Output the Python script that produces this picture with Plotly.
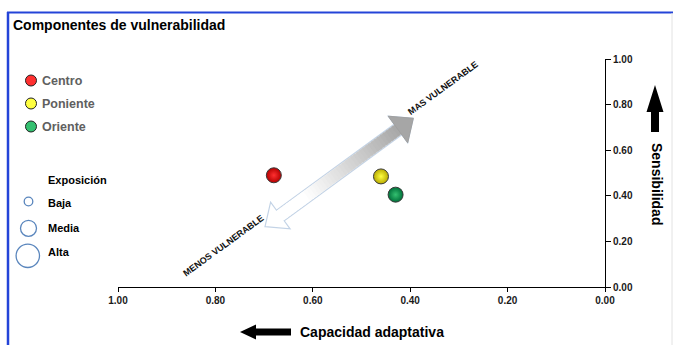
import plotly.graph_objects as go
import numpy as np

# ---------------- data ----------------
regions = ["Centro", "Poniente", "Oriente"]
capacidad_adaptativa = [0.68, 0.46, 0.43]
sensibilidad = [0.49, 0.485, 0.405]
edge_colors = ["#b30000", "#b8aa00", "#00703a"]
center_colors = ["#ff3030", "#ffff40", "#34c070"]
tick_vals = [0.0, 0.2, 0.4, 0.6, 0.8, 1.0]
tick_text = ["0.00", "0.20", "0.40", "0.60", "0.80", "1.00"]
exposure_levels = ["Baja", "Media", "Alta"]

# ---------------- geometry helpers (decorations only) ----------------
W, H = 673, 345
L, R, T, B = 118, 68, 59, 58
PW = W - L - R
PH = H - T - B
FONT = "Liberation Sans, Arial, sans-serif"


def P(px, py):
    return ((px - L) / PW, (H - B - py) / PH)


def path(points):
    pts = [P(*p) for p in points]
    return "M " + " L ".join(f"{x:.5f},{y:.5f}" for x, y in pts) + " Z"


shapes = []
annotations = []

# frame
shapes.append(dict(type="line", xref="paper", yref="paper",
                   x0=P(7, 12.5)[0], y0=P(7, 12.5)[1], x1=P(673, 12.5)[0], y1=P(673, 12.5)[1],
                   line=dict(color="#2444d8", width=2)))
shapes.append(dict(type="line", xref="paper", yref="paper",
                   x0=P(8, 12)[0], y0=P(8, 12)[1], x1=P(8, 345)[0], y1=P(8, 345)[1],
                   line=dict(color="#2444d8", width=2.5)))
shapes.append(dict(type="line", xref="paper", yref="paper",
                   x0=P(672, 13)[0], y0=P(672, 13)[1], x1=P(672, 345)[0], y1=P(672, 345)[1],
                   line=dict(color="#e2e2e2", width=1)))

# big double arrow
tipU = np.array([413.3, 118.3])
tipL = np.array([265.0, 226.7])
u = (tipU - tipL) / np.linalg.norm(tipU - tipL)
n = np.array([-u[1], u[0]])
if n[1] < 0:
    n = -n
hl, hw, bw = 19.0, 16.5, 6.5
baseU = tipU - hl * u
baseL = tipL + hl * u
outline = [tipL, baseL + hw * n, baseL + bw * n, baseU + bw * n, baseU + hw * n, tipU,
           baseU - hw * n, baseU - bw * n, baseL - bw * n, baseL - hw * n]
shapes.append(dict(type="path", xref="paper", yref="paper", layer="below",
                   path=path([tuple(p) for p in outline]),
                   fillcolor="#ffffff", line=dict(color="#c3d3e6", width=1.2)))
N = 40
for i in range(N):
    t0, t1 = i / N, (i + 1) / N + 0.01
    t = (t0 + t1) / 2
    k = np.clip((t - 0.22) / 0.78, 0, 1)
    g = int(round(255 - (255 - 168) * k))
    col = f"rgb({g},{g},{g})"
    a = baseL + t0 * (baseU - baseL)
    b = baseL + min(t1, 1.0) * (baseU - baseL)
    if i == N - 1:
        b = baseU + 1.0 * u
    quad = [a + (bw - 0.7) * n, b + (bw - 0.7) * n, b - (bw - 0.7) * n, a - (bw - 0.7) * n]
    shapes.append(dict(type="path", xref="paper", yref="paper", layer="below",
                       path=path([tuple(p) for p in quad]),
                       fillcolor=col, line=dict(color=col, width=0.3)))
shapes.append(dict(type="path", xref="paper", yref="paper", layer="below",
                   path=path([tuple(tipU), tuple(baseU + hw * n), tuple(baseU - hw * n)]),
                   fillcolor="#a6a6a6", line=dict(color="#a0a0a0", width=1)))

# arrow labels
ang = float(np.degrees(np.arctan2(u[1], u[0])))
for txt, (cx, cy) in [("MAS VULNERABLE", (443, 88)), ("MENOS VULNERABLE", (223, 246))]:
    x, y = P(cx, cy)
    annotations.append(dict(x=x, y=y, xref="paper", yref="paper", text=f"<b>{txt}</b>",
                            textangle=ang, showarrow=False, xanchor="center", yanchor="middle",
                            font=dict(family=FONT, size=9, color="#111111")))

# title
x, y = P(11, 25)
annotations.append(dict(x=x, y=y, xref="paper", yref="paper", text="<b>Componentes de vulnerabilidad</b>",
                        showarrow=False, xanchor="left", yanchor="middle",
                        font=dict(family=FONT, size=14, color="#000000")))

# series legend (manual)
for i, name in enumerate(regions):
    cy = 80.5 + 23 * i
    x0, y0 = P(25.5, cy - 5.5)
    x1, y1 = P(36.5, cy + 5.5)
    shapes.append(dict(type="circle", xref="paper", yref="paper", x0=x0, y0=y0, x1=x1, y1=y1,
                       fillcolor=center_colors[i], line=dict(color="#222222", width=1)))
    x, y = P(39.5, cy)
    annotations.append(dict(x=x, y=y, xref="paper", yref="paper", text=f"<b>{name}</b>",
                            showarrow=False, xanchor="left", yanchor="middle",
                            font=dict(family=FONT, size=12.5, color="#606060")))

# exposure legend
x, y = P(45.5, 180)
annotations.append(dict(x=x, y=y, xref="paper", yref="paper", text="<b>Exposición</b>",
                        showarrow=False, xanchor="left", yanchor="middle",
                        font=dict(family=FONT, size=11, color="#000000")))
exp_geom = [(28.5, 201.5, 4.3, 203), (28.5, 228.3, 8.0, 228), (27.8, 255.8, 11.7, 252)]
for lvl, (cx, cy, r, ty) in zip(exposure_levels, exp_geom):
    x0, y0 = P(cx - r, cy + r)
    x1, y1 = P(cx + r, cy - r)
    shapes.append(dict(type="circle", xref="paper", yref="paper", x0=x0, y0=y0, x1=x1, y1=y1,
                       fillcolor="rgba(0,0,0,0)", line=dict(color="#5a86bd", width=1.3)))
    x, y = P(45.5, ty)
    annotations.append(dict(x=x, y=y, xref="paper", yref="paper", text=f"<b>{lvl}</b>",
                            showarrow=False, xanchor="left", yanchor="middle",
                            font=dict(family=FONT, size=11, color="#000000")))

# right axis label + arrow
x, y = P(657, 184)
annotations.append(dict(x=x, y=y, xref="paper", yref="paper", text="<b>Sensibilidad</b>",
                        textangle=90, showarrow=False, xanchor="center", yanchor="middle",
                        font=dict(family=FONT, size=14, color="#000000")))
shapes.append(dict(type="path", xref="paper", yref="paper",
                   path=path([(655, 85), (663.5, 112), (659, 112), (659, 132), (651, 132),
                              (651, 112), (646.5, 112)]),
                   fillcolor="#000000", line=dict(color="#000000", width=0)))

# bottom axis label + arrow
x, y = P(298, 332)
annotations.append(dict(x=x, y=y, xref="paper", yref="paper", text="<b>Capacidad adaptativa</b>",
                        showarrow=False, xanchor="left", yanchor="middle",
                        font=dict(family=FONT, size=14, color="#000000")))
shapes.append(dict(type="path", xref="paper", yref="paper",
                   path=path([(240, 332), (256, 324.5), (256, 328.5), (291, 328.5), (291, 335.5),
                              (256, 335.5), (256, 339.5)]),
                   fillcolor="#000000", line=dict(color="#000000", width=0)))

# ---------------- figure ----------------
fig = go.Figure()
for i, name in enumerate(regions):
    fig.add_trace(go.Scatter(
        x=[capacidad_adaptativa[i]], y=[sensibilidad[i]], mode="markers", name=name,
        showlegend=False,
        marker=dict(size=15, color=edge_colors[i],
                    gradient=dict(type="radial", color=center_colors[i]),
                    line=dict(color="#3a3a3a", width=1)),
    ))

axis_font = dict(family=FONT, size=10, color="#1a1a1a", weight="bold")
fig.update_layout(
    width=W, height=H,
    margin=dict(l=L, r=R, t=T, b=B),
    paper_bgcolor="white", plot_bgcolor="white",
    showlegend=False,
    shapes=shapes, annotations=annotations,
    xaxis=dict(range=[1.0, 0.0], tickvals=tick_vals, ticktext=tick_text,
               showgrid=False, zeroline=False, showline=True, linecolor="#000000", linewidth=1,
               ticks="outside", ticklen=4, tickcolor="#000000", tickfont=axis_font),
    yaxis=dict(range=[0.0, 1.0], tickvals=tick_vals, ticktext=tick_text, side="right",
               showgrid=False, zeroline=False, showline=True, linecolor="#000000", linewidth=1,
               ticks="outside", ticklen=5, tickcolor="#000000", tickfont=axis_font),
)

fig.write_html("out.html", config={"displayModeBar": False},
               post_script="document.body.style.margin='0';document.body.style.overflow='hidden';")
